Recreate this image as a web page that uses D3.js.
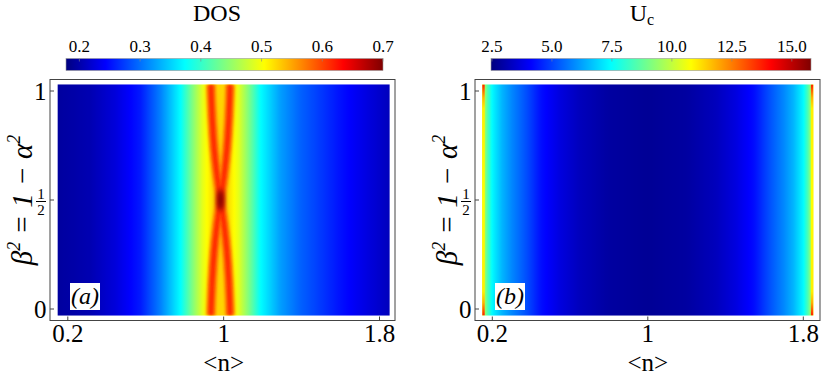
<!DOCTYPE html>
<html><head><meta charset="utf-8">
<script src="https://cdn.jsdelivr.net/npm/d3@7"></script>
<style>
body{margin:0;background:#fff}
svg{display:block}
text{font-family:"Liberation Serif","Times New Roman",serif;fill:#000}
</style>
</head><body>
<svg id="c" width="822" height="380"></svg>
<script>
// ---------- data ----------
const xTicks = [0.2, 1, 1.8];
const xTickLabels = ["0.2", "1", "1.8"];
const yTicksWhole = [0, 1];
const yTickHalf = 0.5;
const heatN = [0.148, 1.852];      // extent of the maps in <n>
const heatBeta = [-0.03, 1.03];    // extent of the maps in beta^2

// DOS profile across <n> (panel a)
const dosN = [0.148, 0.317, 0.445, 0.573, 0.676, 0.779, 0.840, 0.892, 0.940, 0.984, 1.028, 1.076, 1.128, 1.189, 1.292, 1.395, 1.600, 1.750, 1.852];
const dosV = [0.194, 0.204, 0.225, 0.256, 0.309, 0.374, 0.439, 0.491, 0.520, 0.526, 0.520, 0.491, 0.439, 0.374, 0.324, 0.293, 0.251, 0.225, 0.209];
// two crossing DOS ridges (panel a)
const ridgeBeta = [1.03, 0.9, 0.74, 0.62, 0.5, 0.38, 0.26, 0.1, -0.03];
const ridgeA = [0.935, 0.940, 0.951, 0.965, 0.984, 1.003, 1.017, 1.028, 1.033];
const ridgeB = [1.033, 1.028, 1.017, 1.003, 0.984, 0.965, 0.951, 0.940, 0.935];
const ridgeCore = 0.615, ridgeHalo = 0.565;
const peakN = [0.984], peakBeta = [0.5], peakV = [0.70];

// Uc profile across <n> (panel b)
const ucN = [0.148, 0.16, 0.175, 0.2, 0.25, 0.3, 0.38, 0.45, 0.55, 0.65, 0.8, 1.0, 1.2, 1.35, 1.45, 1.55, 1.62, 1.7, 1.75, 1.8, 1.825, 1.84, 1.852];
const ucV = [11.0, 9.6, 8.5, 7.4, 6.5, 5.9, 5.1, 4.3, 3.7, 3.26, 2.9, 2.75, 2.9, 3.26, 3.7, 4.3, 5.1, 5.9, 6.5, 7.4, 8.5, 9.6, 11.0];
// Uc along the outermost columns (panel b)
const edgeBeta = [-0.03, 0.0, 0.03, 0.08, 0.5, 0.92, 0.97, 1.0, 1.03];
const edgeV = [13.8, 12.8, 11.8, 11.0, 10.8, 11.0, 11.8, 12.8, 13.8];

// colour bars
const dosTicks = [0.2, 0.3, 0.4, 0.5, 0.6, 0.7];
const dosTickLabels = ["0.2", "0.3", "0.4", "0.5", "0.6", "0.7"];
const dosRange = [0.178, 0.700];
const ucTicks = [2.5, 5.0, 7.5, 10.0, 12.5, 15.0];
const ucTickLabels = ["2.5", "5.0", "7.5", "10.0", "12.5", "15.0"];
const ucRange = [2.46, 15.80];

// ---------- drawing ----------
const svg = d3.select("#c");
const defs = svg.append("defs");
const jetT = [0, 0.125, 0.375, 0.625, 0.875, 1];
const jetC = ["#00007f", "#0000ff", "#00ffff", "#ffff00", "#ff0000", "#7f0000"];
function makeColor(r) {
  return d3.scaleLinear().domain(jetT.map(t => r[0] + t * (r[1] - r[0])))
    .range(jetC).interpolate(d3.interpolateRgb).clamp(true);
}
const dosColor = makeColor(dosRange), ucColor = makeColor(ucRange);

const frameY = [79.5, 320.5];
const y = d3.scaleLinear().domain([0, 1]).range([309, 91]);

defs.append("filter").attr("id", "blur1").attr("x", "-50%").attr("y", "-10%").attr("width", "200%").attr("height", "120%")
  .append("feGaussianBlur").attr("stdDeviation", 1.6);
defs.append("filter").attr("id", "blur2").attr("x", "-100%").attr("y", "-50%").attr("width", "300%").attr("height", "200%")
  .append("feGaussianBlur").attr("stdDeviation", 2.5);
defs.append("filter").attr("id", "blur3").attr("x", "-100%").attr("y", "-5%").attr("width", "300%").attr("height", "110%")
  .append("feGaussianBlur").attr("stdDeviation", 0.7);

const panels = [
  {id: "a", fx: [50, 395], xr: [67.8, 379.5], cb: [66, 383], cbRange: dosRange, cbTicks: dosTicks, cbLabels: dosTickLabels,
   color: dosColor, profN: dosN, profV: dosV, tag: "(a)", tagX: 70, titleX: 217},
  {id: "b", fx: [475, 820], xr: [492.3, 803.3], cb: [491, 811], cbRange: ucRange, cbTicks: ucTicks, cbLabels: ucTickLabels,
   color: ucColor, profN: ucN, profV: ucV, tag: "(b)", tagX: 495, titleX: 642}
];

panels.forEach(p => {
  const x = d3.scaleLinear().domain([0.2, 1.8]).range(p.xr);
  const g = svg.append("g");
  const hx0 = x(heatN[0]), hx1 = x(heatN[1]);
  const hy0 = y(heatBeta[1]), hy1 = y(heatBeta[0]);

  // horizontal gradient from the profile
  const prof = d3.scaleLinear().domain(p.profN).range(p.profV);
  const grad = defs.append("linearGradient").attr("id", "heat" + p.id)
    .attr("gradientUnits", "userSpaceOnUse").attr("x1", hx0).attr("x2", hx1).attr("y1", 0).attr("y2", 0);
  const N = 240;
  d3.range(N + 1).forEach(i => {
    const n = heatN[0] + (heatN[1] - heatN[0]) * i / N;
    grad.append("stop").attr("offset", i / N).attr("stop-color", p.color(prof(n)));
  });
  defs.append("clipPath").attr("id", "clip" + p.id).append("rect")
    .attr("x", hx0).attr("y", hy0).attr("width", hx1 - hx0).attr("height", hy1 - hy0);

  g.append("rect").attr("x", hx0).attr("y", hy0).attr("width", hx1 - hx0).attr("height", hy1 - hy0)
    .attr("fill", "url(#heat" + p.id + ")");

  const over = g.append("g").attr("clip-path", "url(#clip" + p.id + ")");
  if (p.id === "a") {
    const line = d3.line().curve(d3.curveCatmullRom);
    [ridgeA, ridgeB].forEach(r => {
      const pts = r.map((n, i) => [x(n), y(ridgeBeta[i])]);
      over.append("path").attr("d", line(pts)).attr("fill", "none")
        .attr("stroke", dosColor(ridgeHalo)).attr("stroke-width", 10).attr("filter", "url(#blur1)");
    });
    [ridgeA, ridgeB].forEach(r => {
      const pts = r.map((n, i) => [x(n), y(ridgeBeta[i])]);
      over.append("path").attr("d", line(pts)).attr("fill", "none")
        .attr("stroke", dosColor(ridgeCore)).attr("stroke-width", 5).attr("filter", "url(#blur1)");
    });
    peakN.forEach((n, i) => {
      over.append("ellipse").attr("cx", x(n)).attr("cy", y(peakBeta[i])).attr("rx", 3.5).attr("ry", 11)
        .attr("fill", dosColor(peakV[i])).attr("filter", "url(#blur2)");
    });
  } else {
    const vg = defs.append("linearGradient").attr("id", "edge" + p.id)
      .attr("gradientUnits", "userSpaceOnUse").attr("x1", 0).attr("x2", 0).attr("y1", hy0).attr("y2", hy1);
    const stops = edgeBeta.map((b, i) => ({o: (y(b) - hy0) / (hy1 - hy0), c: ucColor(edgeV[i])}))
      .sort((a, b) => a.o - b.o);
    stops.forEach(s => vg.append("stop").attr("offset", Math.max(0, Math.min(1, s.o))).attr("stop-color", s.c));
    over.append("rect").attr("x", hx0).attr("y", hy0).attr("width", 2.5).attr("height", hy1 - hy0)
      .attr("fill", "url(#edge" + p.id + ")").attr("filter", "url(#blur3)");
    over.append("rect").attr("x", hx1 - 2.5).attr("y", hy0).attr("width", 2.5).attr("height", hy1 - hy0)
      .attr("fill", "url(#edge" + p.id + ")").attr("filter", "url(#blur3)");
  }

  // frame
  g.append("rect").attr("x", p.fx[0]).attr("y", frameY[0]).attr("width", p.fx[1] - p.fx[0]).attr("height", frameY[1] - frameY[0])
    .attr("fill", "none").attr("stroke", "#444").attr("stroke-width", 1);

  // x ticks
  xTicks.forEach((t, i) => {
    g.append("line").attr("x1", x(t)).attr("x2", x(t)).attr("y1", frameY[1]).attr("y2", frameY[1] - 4).attr("stroke", "#444");
    g.append("text").attr("x", x(t)).attr("y", 341.5).attr("text-anchor", "middle").attr("font-size", 25).text(xTickLabels[i]);
  });
  g.append("text").attr("x", x(1)).attr("y", 371).attr("text-anchor", "middle").attr("font-size", 25).text("<n>");

  // y ticks
  const lx = p.fx[0] - 3.5;
  [...yTicksWhole, yTickHalf].forEach(t => {
    g.append("line").attr("x1", p.fx[0]).attr("x2", p.fx[0] + 4).attr("y1", y(t)).attr("y2", y(t)).attr("stroke", "#444");
  });
  yTicksWhole.forEach(t => {
    g.append("text").attr("x", lx).attr("y", y(t) + 8.5).attr("text-anchor", "end").attr("font-size", 25).text(String(t));
  });
  const fxc = lx - 5.5;
  g.append("text").attr("x", fxc).attr("y", y(yTickHalf) - 1.5).attr("text-anchor", "middle").attr("font-size", 15).text("1");
  g.append("line").attr("x1", fxc - 5).attr("x2", fxc + 5).attr("y1", y(yTickHalf) + 1.5).attr("y2", y(yTickHalf) + 1.5)
    .attr("stroke", "#000").attr("stroke-width", 1);
  g.append("text").attr("x", fxc).attr("y", y(yTickHalf) + 14.5).attr("text-anchor", "middle").attr("font-size", 15).text("2");

  // y label
  const yl = g.append("text").attr("transform", `translate(${p.fx[0] - 18},200) rotate(-90)`)
    .attr("text-anchor", "middle").attr("font-size", 29).attr("font-style", "italic");
  yl.append("tspan").text("β");
  yl.append("tspan").attr("dy", -12).attr("font-size", 18).text("2");
  yl.append("tspan").attr("dy", 12).text(" = 1 − α");
  yl.append("tspan").attr("dy", -12).attr("font-size", 18).text("2");

  // panel tag
  g.append("rect").attr("x", p.tagX).attr("y", 283).attr("width", 30).attr("height", 27).attr("fill", "#fff");
  g.append("text").attr("x", p.tagX + 15).attr("y", 304).attr("text-anchor", "middle").attr("font-size", 24)
    .attr("font-style", "italic").text(p.tag);

  // colour bar
  const cx = d3.scaleLinear().domain(p.cbRange).range(p.cb);
  const cg = defs.append("linearGradient").attr("id", "cb" + p.id)
    .attr("gradientUnits", "userSpaceOnUse").attr("x1", p.cb[0]).attr("x2", p.cb[1]).attr("y1", 0).attr("y2", 0);
  jetT.forEach(t => {
    const v = p.cbRange[0] + t * (p.cbRange[1] - p.cbRange[0]);
    cg.append("stop").attr("offset", t).attr("stop-color", p.color(v));
  });
  g.append("rect").attr("x", p.cb[0]).attr("y", 58.5).attr("width", p.cb[1] - p.cb[0]).attr("height", 12)
    .attr("fill", "url(#cb" + p.id + ")").attr("stroke", "#999").attr("stroke-width", 0.6);
  p.cbTicks.forEach((t, i) => {
    g.append("line").attr("x1", cx(t)).attr("x2", cx(t)).attr("y1", 58.5).attr("y2", 61.5).attr("stroke", "#888").attr("stroke-width", 0.6);
    g.append("text").attr("x", cx(t)).attr("y", 51.5).attr("text-anchor", "middle").attr("font-size", 17).text(p.cbLabels[i]);
  });
  // title
  const tt = g.append("text").attr("x", p.titleX).attr("y", 21).attr("text-anchor", "middle").attr("font-size", 24);
  if (p.id === "a") tt.text("DOS");
  else { tt.append("tspan").text("U"); tt.append("tspan").attr("dy", 4).attr("font-size", 16).text("c"); }
});
</script>
</body></html>
